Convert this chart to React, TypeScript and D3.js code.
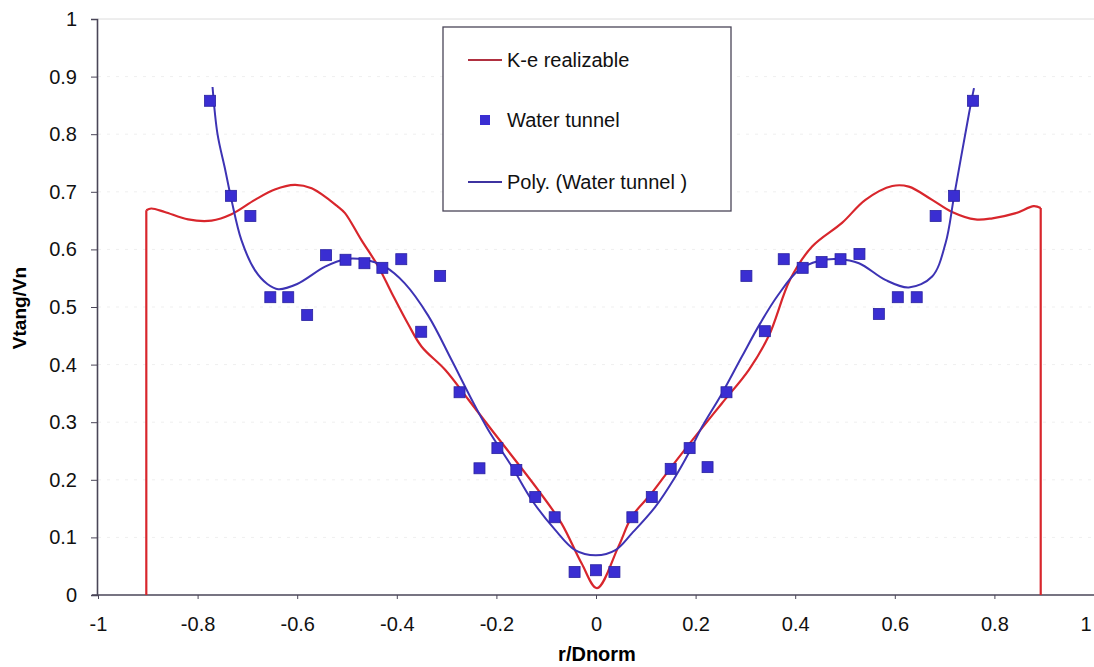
import React, { useEffect, useRef } from 'react';
import * as d3 from 'd3';

// Water tunnel measurements
const tunnelR = [
  -0.775, -0.733, -0.694, -0.654, -0.618, -0.58, -0.542, -0.503, -0.465, -0.429, -0.391, -0.351, -0.313, -0.274,
  -0.234, -0.198, -0.16, -0.122, -0.083, -0.043, 0, 0.037, 0.073, 0.112, 0.15, 0.188, 0.224, 0.262, 0.302, 0.339,
  0.377, 0.415, 0.453, 0.491, 0.529, 0.568, 0.606, 0.644, 0.682, 0.719, 0.757,
];
const tunnelV = [
  0.858, 0.693, 0.658, 0.517, 0.517, 0.486, 0.59, 0.582, 0.576, 0.568, 0.583, 0.457, 0.554, 0.352,
  0.22, 0.255, 0.217, 0.17, 0.135, 0.04, 0.043, 0.04, 0.135, 0.17, 0.219, 0.255, 0.222, 0.352, 0.554, 0.458,
  0.583, 0.568, 0.578, 0.583, 0.592, 0.488, 0.517, 0.517, 0.658, 0.693, 0.858,
];

// K-e realizable curve (first and last points are the vertical walls)
const keR = [
  -0.903, -0.903, -0.893, -0.866, -0.819, -0.772, -0.732, -0.685, -0.645, -0.605, -0.571, -0.518, -0.504, -0.471,
  -0.437, -0.41, -0.377, -0.35, -0.303, -0.256, -0.209, -0.162, -0.116, -0.069, -0.029, 0.002, 0.045, 0.072, 0.112,
  0.152, 0.199, 0.253, 0.307, 0.347, 0.39, 0.434, 0.494, 0.541, 0.595, 0.628, 0.675, 0.715, 0.762, 0.796, 0.843,
  0.879, 0.893, 0.893,
];
const keV = [
  0, 0.668, 0.671, 0.665, 0.652, 0.65, 0.661, 0.686, 0.704, 0.712, 0.706, 0.674, 0.663, 0.616,
  0.57, 0.524, 0.47, 0.431, 0.391, 0.339, 0.286, 0.234, 0.182, 0.124, 0.055, 0.012, 0.084, 0.136, 0.177,
  0.223, 0.275, 0.333, 0.391, 0.45, 0.548, 0.605, 0.646, 0.686, 0.71, 0.709, 0.686, 0.665, 0.652, 0.654, 0.663,
  0.675, 0.672, 0,
];

// Poly. (Water tunnel) trendline
const polyR = [
  -0.77, -0.76, -0.745, -0.732, -0.712, -0.685, -0.66, -0.638, -0.6, -0.544, -0.504, -0.464, -0.424, -0.384, -0.337,
  -0.29, -0.25, -0.216, -0.169, -0.129, -0.082, -0.042, 0, 0.039, 0.072, 0.119, 0.159, 0.186, 0.213, 0.253, 0.293,
  0.33, 0.365, 0.407, 0.447, 0.487, 0.528, 0.581, 0.628, 0.675, 0.702, 0.719, 0.749, 0.759,
];
const polyV = [
  0.882, 0.8, 0.74, 0.686, 0.616, 0.564, 0.54, 0.531, 0.54, 0.57, 0.583, 0.582, 0.57, 0.541, 0.485,
  0.408, 0.34, 0.286, 0.223, 0.165, 0.113, 0.078, 0.069, 0.078, 0.107, 0.153, 0.205, 0.246, 0.292, 0.35, 0.414,
  0.472, 0.52, 0.564, 0.58, 0.583, 0.576, 0.547, 0.534, 0.553, 0.611, 0.692, 0.836, 0.88,
];

const xTicks = [-1, -0.8, -0.6, -0.4, -0.2, 0, 0.2, 0.4, 0.6, 0.8, 1];
const yTicks = [0, 0.1, 0.2, 0.3, 0.4, 0.5, 0.6, 0.7, 0.8, 0.9, 1];

const W = 1094;
const H = 667;
const FONT = 'Liberation Sans, Arial, sans-serif';

export default function App() {
  const ref = useRef<SVGSVGElement>(null);

  useEffect(() => {
    const svg = d3.select(ref.current);
    svg.selectAll('*').remove();

    const x = d3.scaleLinear().domain([-1, 1]).range([98, 1094]);
    const y = d3.scaleLinear().domain([0, 1]).range([595, 19]);

    // faint gridlines
    svg.append('g')
      .selectAll('line')
      .data(yTicks.filter((t) => t > 0))
      .join('line')
      .attr('x1', x(-1))
      .attr('x2', W)
      .attr('y1', (d) => y(d))
      .attr('y2', (d) => y(d))
      .attr('stroke', (d) => (d === 1 ? '#dcdcdc' : '#efefef'))
      .attr('stroke-dasharray', (d) => (d === 1 ? null : '3,6'));

    // axes
    const fmt = (d: d3.NumberValue) => String(d);
    const yAxis = svg.append('g')
      .attr('transform', `translate(${x(-1) - 1},0)`)
      .call(d3.axisLeft(y).tickValues(yTicks).tickFormat(fmt).tickSize(6).tickPadding(14));
    const xAxis = svg.append('g')
      .attr('transform', `translate(0,${y(0)})`)
      .call(d3.axisBottom(x).tickValues(xTicks).tickFormat(fmt).tickSize(4).tickPadding(18));

    [yAxis, xAxis].forEach((a) => {
      a.select('.domain').attr('stroke', '#4a4658').attr('stroke-width', 1.6);
      a.selectAll('.tick line').attr('stroke', '#4a4658');
      a.selectAll('.tick text')
        .attr('fill', '#111')
        .style('font-family', FONT)
        .style('font-size', '20px');
    });
    xAxis.select('.domain').attr('d', `M${x(-1) - 6},0H${W}`);
    // keep the last x label inside the picture
    xAxis.selectAll<SVGTextElement, number>('.tick text')
      .filter((d) => d === 1)
      .attr('text-anchor', 'end')
      .attr('dx', -3);

    // K-e realizable: smooth middle, straight walls at the ends
    const n = keV.length;
    const keCurve = d3.line<number>()
      .x((d, i) => x(keR[i + 1]))
      .y((d) => y(d))
      .curve(d3.curveCatmullRom.alpha(0.5));
    const keWall = d3.line<[number, number]>()
      .x((d) => x(d[0]))
      .y((d) => y(d[1]));
    const red = svg.append('g')
      .attr('fill', 'none')
      .attr('stroke', '#d8262c')
      .attr('stroke-width', 2.2)
      .attr('stroke-linejoin', 'round');
    red.append('path').attr('d', keCurve(keV.slice(1, n - 1)));
    red.append('path').attr('d', keWall([[keR[0], keV[0]], [keR[1], keV[1]]]));
    red.append('path').attr('d', keWall([[keR[n - 2], keV[n - 2]], [keR[n - 1], keV[n - 1]]]));

    // Poly trendline
    const polyLine = d3.line<number>()
      .x((d, i) => x(polyR[i]))
      .y((d) => y(d))
      .curve(d3.curveCatmullRom.alpha(0.5));
    svg.append('path')
      .attr('d', polyLine(polyV))
      .attr('fill', 'none')
      .attr('stroke', '#3d33b4')
      .attr('stroke-width', 2);

    // water tunnel markers
    const s = 11;
    svg.append('g')
      .selectAll('rect')
      .data(tunnelV)
      .join('rect')
      .attr('x', (d, i) => x(tunnelR[i]) - s / 2)
      .attr('y', (d) => y(d) - s / 2)
      .attr('width', s)
      .attr('height', s)
      .attr('fill', '#3a2ed2')
      .attr('stroke', '#2a22a0')
      .attr('stroke-width', 0.8);

    // axis titles
    svg.append('text')
      .attr('transform', `translate(26,308) rotate(-90)`)
      .attr('text-anchor', 'middle')
      .style('font-family', FONT)
      .style('font-size', '19px')
      .style('font-weight', 'bold')
      .text('Vtang/Vn');
    svg.append('text')
      .attr('x', 597)
      .attr('y', 661)
      .attr('text-anchor', 'middle')
      .style('font-family', FONT)
      .style('font-size', '20px')
      .style('font-weight', 'bold')
      .text('r/Dnorm');

    // legend
    const lg = svg.append('g');
    lg.append('rect')
      .attr('x', 443).attr('y', 27).attr('width', 288).attr('height', 184)
      .attr('fill', '#fff').attr('stroke', '#4a4658').attr('stroke-width', 1.3);
    const items = [
      { label: 'K-e realizable', kind: 'line', color: '#b03040', cy: 60 },
      { label: 'Water tunnel', kind: 'square', color: '#3a2ed2', cy: 120 },
      { label: 'Poly. (Water tunnel )', kind: 'line', color: '#3d33a0', cy: 182 },
    ];
    items.forEach((it) => {
      if (it.kind === 'line') {
        lg.append('line')
          .attr('x1', 468).attr('x2', 502).attr('y1', it.cy).attr('y2', it.cy)
          .attr('stroke', it.color).attr('stroke-width', 2);
      } else {
        lg.append('rect')
          .attr('x', 480).attr('y', it.cy - 5).attr('width', 10).attr('height', 10)
          .attr('fill', it.color);
      }
      lg.append('text')
        .attr('x', 507)
        .attr('y', it.cy + 7)
        .style('font-family', FONT)
        .style('font-size', '20px')
        .attr('fill', '#111')
        .text(it.label);
    });
  }, []);

  return (
    <svg
      ref={ref}
      width={W}
      height={H}
      style={{ position: 'absolute', left: 0, top: 0, background: '#fff' }}
    />
  );
}
